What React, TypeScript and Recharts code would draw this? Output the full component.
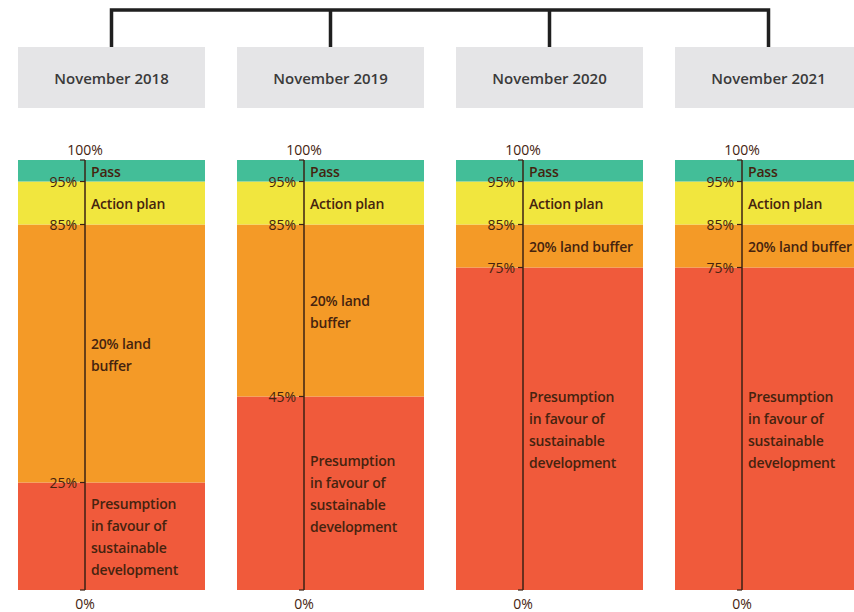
import { Bar, BarChart, LabelList, XAxis, YAxis } from "recharts";

const periods = ["November 2018", "November 2019", "November 2020", "November 2021"];
const presumptionShare = [25, 45, 75, 75];
const landBufferShare = [60, 40, 10, 10];
const actionPlanShare = [10, 10, 10, 10];
const passShare = [5, 5, 5, 5];

const passLines = ["Pass"];
const actionLines = ["Action plan"];
const landBufferLines = [["20% land", "buffer"], ["20% land", "buffer"], ["20% land buffer"], ["20% land buffer"]];
const presumptionLines = ["Presumption", "in favour of", "sustainable", "development"];

const passFill = "#43be98";
const actionFill = "#f1e63e";
const bufferFill = "#f49a27";
const presumptionFill = "#f05a3b";
const inkColor = "#45230f";

const PANEL_LEFT = 18;
const PANEL_STEP = 219;
const PANEL_W = 187;
const AXIS_X = 67;
const HEADER_TOP = 47;
const HEADER_H = 61;
const CHART_TOP = 130;
const CHART_H = 482;
const chartMargin = { top: 30, right: 0, bottom: 22, left: 0 };
const labelFont = "'Open Sans', 'DejaVu Sans', sans-serif";

const rows = periods.map((period, i) => ({
  period,
  presumption: presumptionShare[i],
  buffer: landBufferShare[i],
  action: actionPlanShare[i],
  pass: passShare[i],
}));

// band edges for the axis: 0, then running totals up to 100
const edgesFor = (i: number) => {
  const steps = [presumptionShare[i], landBufferShare[i], actionPlanShare[i], passShare[i]];
  const out = [0];
  steps.forEach((s) => out.push(out[out.length - 1] + s));
  return out;
};

function bandLabel(lines: string[]) {
  return (props: any) => {
    const { x, y, height } = props;
    const lineH = 22;
    const top = Number(y) + Number(height) / 2 - ((lines.length - 1) * lineH) / 2;
    const tx = Number(x) + AXIS_X + 6;
    return (
      <text x={tx} y={top} fill={inkColor} fontSize={14} fontWeight={600} fontFamily={labelFont} dominantBaseline="central" letterSpacing={-0.2}>
        {lines.map((line, k) => (
          <tspan key={k} x={tx} dy={k === 0 ? 0 : lineH}>
            {line}
          </tspan>
        ))}
      </text>
    );
  };
}

const PercentTick = (props: any) => {
  const { x, y, payload } = props;
  const lineX = Number(x) + 8;
  const v = payload.value;
  const common = { fill: inkColor, fontSize: 14, fontFamily: labelFont };
  if (v === 100)
    return (
      <text x={lineX} y={y - 5} textAnchor="middle" {...common}>
        100%
      </text>
    );
  if (v === 0)
    return (
      <text x={lineX} y={y + 19} textAnchor="middle" {...common}>
        0%
      </text>
    );
  return (
    <text x={x} y={y} textAnchor="end" dominantBaseline="central" {...common}>
      {`${v}%`}
    </text>
  );
};

function Panel({ index }: { index: number }) {
  const left = PANEL_LEFT + index * PANEL_STEP;
  const data = [rows[index]];
  return (
    <>
      <div
        style={{
          position: "absolute",
          left,
          top: HEADER_TOP,
          width: PANEL_W,
          height: HEADER_H,
          background: "#e5e5e7",
          display: "flex",
          alignItems: "center",
          justifyContent: "center",
          fontFamily: labelFont,
          fontWeight: 600,
          fontSize: 15,
          color: "#3a3a3a",
        }}
      >
        {periods[index]}
      </div>
      <div style={{ position: "absolute", left, top: CHART_TOP }}>
        <BarChart width={PANEL_W} height={CHART_H} data={data} margin={chartMargin} barCategoryGap={0}>
          <XAxis dataKey="period" hide />
          <YAxis hide domain={[0, 100]} />
          <Bar dataKey="presumption" stackId="s" fill={presumptionFill} isAnimationActive={false}>
            <LabelList content={bandLabel(presumptionLines)} />
          </Bar>
          <Bar dataKey="buffer" stackId="s" fill={bufferFill} isAnimationActive={false}>
            <LabelList content={bandLabel(landBufferLines[index])} />
          </Bar>
          <Bar dataKey="action" stackId="s" fill={actionFill} isAnimationActive={false}>
            <LabelList content={bandLabel(actionLines)} />
          </Bar>
          <Bar dataKey="pass" stackId="s" fill={passFill} isAnimationActive={false}>
            <LabelList content={bandLabel(passLines)} />
          </Bar>
        </BarChart>
      </div>
      {/* axis drawn on top, its line sits inside the bar */}
      <div style={{ position: "absolute", left, top: CHART_TOP, pointerEvents: "none" }}>
        <BarChart width={PANEL_W} height={CHART_H} data={data} margin={chartMargin}>
          <XAxis dataKey="period" hide />
          <YAxis
            type="number"
            domain={[0, 100]}
            allowDataOverflow
            ticks={edgesFor(index)}
            interval={0}
            width={AXIS_X}
            tick={<PercentTick />}
            tickSize={5}
            tickMargin={3}
            axisLine={{ stroke: "#3b2214", strokeWidth: 1.5 }}
            tickLine={{ stroke: "#3b2214", strokeWidth: 1.2 }}
          />
        </BarChart>
      </div>
    </>
  );
}

export default function App() {
  const centers = periods.map((_, i) => PANEL_LEFT + i * PANEL_STEP + PANEL_W / 2);
  return (
    <div style={{ position: "relative", width: 854, height: 612, overflow: "hidden", background: "#fff" }}>
      <style>{`body{margin:0}`}</style>
      <svg width={854} height={HEADER_TOP} style={{ position: "absolute", left: 0, top: 0 }}>
        <path
          d={`M${centers[0]} ${HEADER_TOP} V10 H${centers[centers.length - 1]} V${HEADER_TOP}`}
          fill="none"
          stroke="#1f1f1f"
          strokeWidth={3.5}
        />
        {centers.slice(1, -1).map((c) => (
          <line key={c} x1={c} x2={c} y1={10} y2={HEADER_TOP} stroke="#1f1f1f" strokeWidth={3.5} />
        ))}
      </svg>
      {periods.map((p, i) => (
        <Panel key={p} index={i} />
      ))}
    </div>
  );
}
